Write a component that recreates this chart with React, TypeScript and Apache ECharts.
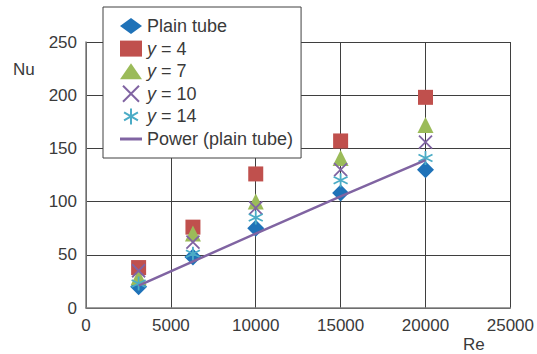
import React, { useEffect, useRef } from "react";
import * as echarts from "echarts";

const reValues = [3100, 6300, 10000, 15000, 20000];
const plainTube = [20, 48, 75, 108, 130];
const y4 = [38, 76, 126, 157, 198];
const y7 = [29, 70, 100, 141, 172];
const y10 = [35, 62, 94, 130, 156];
const y14 = [23, 51, 85, 120, 141];
const powerRe = [3100, 10000, 15000, 20000];
const powerNu = [21, 70, 105, 139];
const xTicks = [0, 5000, 10000, 15000, 20000, 25000];
const yTicks = [0, 50, 100, 150, 200, 250];

const FONT = "'Liberation Sans', Arial, sans-serif";
const TXT = "#3a3a3a";

const X_PATH = "path://M0,0L10,10M10,0L0,10";
const AST_PATH = "path://M5,0L5,10M0.67,2.5L9.33,7.5M0.67,7.5L9.33,2.5";
const LINE_ICON = "path://M0,0H22V3H0Z";

export default function App() {
  const ref = useRef<HTMLDivElement>(null);
  useEffect(() => {
    if (!ref.current) return;
    const chart = echarts.init(ref.current, null, { renderer: "svg" });
    const pts = (ys: number[]) => reValues.map((x, i) => [x, ys[i]]);
    const option: any = {
      animation: false,
      backgroundColor: "#ffffff",
      textStyle: { fontFamily: FONT },
      grid: { left: 86, right: 16, top: 42, bottom: 46, containLabel: false },
      xAxis: {
        type: "value",
        min: xTicks[0],
        max: xTicks[xTicks.length - 1],
        interval: 5000,
        axisLine: { show: true, onZero: false, lineStyle: { color: "#7f7f7f", width: 1.5 } },
        axisTick: { show: false },
        axisLabel: {
          color: TXT,
          fontSize: 17,
          fontFamily: FONT,
          margin: 9,
          formatter: (v: number) => String(v),
        },
        splitLine: { show: true, lineStyle: { color: "#3f3f3f", width: 1 } },
      },
      yAxis: {
        type: "value",
        min: yTicks[0],
        max: yTicks[yTicks.length - 1],
        interval: 50,
        axisLine: { show: true, onZero: false, lineStyle: { color: "#7f7f7f", width: 1.5 } },
        axisTick: { show: false },
        axisLabel: {
          color: TXT,
          fontSize: 17,
          fontFamily: FONT,
          margin: 9,
          formatter: (v: number) => String(v),
        },
        splitLine: { show: true, lineStyle: { color: "#3f3f3f", width: 1 } },
      },
      legend: {
        left: 103,
        top: 7,
        orient: "vertical",
        padding: [10, 8, 10, 17],
        itemWidth: 22,
        itemHeight: 16,
        itemGap: 4.6,
        backgroundColor: "#ffffff",
        borderColor: "#404040",
        borderWidth: 1,
        textStyle: {
          color: TXT,
          fontSize: 18,
          lineHeight: 18,
          fontFamily: FONT,
          rich: {
            i: { fontStyle: "italic", fontSize: 18, lineHeight: 18, fontFamily: FONT, color: TXT },
          },
        },
        formatter: (name: string) =>
          name.startsWith("y = ") ? "{i|y} = " + name.slice(4) : name,
        data: [
          { name: "Plain tube" },
          { name: "y = 4" },
          { name: "y = 7" },
          {
            name: "y = 10",
            itemStyle: { color: "transparent", borderColor: "#8064A2", borderWidth: 2 },
          },
          {
            name: "y = 14",
            itemStyle: { color: "transparent", borderColor: "#4BACC6", borderWidth: 2 },
          },
          {
            name: "Power (plain tube)",
            icon: LINE_ICON,
            itemStyle: { color: "#8064A2", borderWidth: 0 },
          },
        ],
      },
      series: [
        {
          name: "Plain tube",
          type: "scatter",
          symbol: "diamond",
          symbolSize: 17,
          itemStyle: { color: "#1F72B8", opacity: 1 },
          data: pts(plainTube),
        },
        {
          name: "y = 4",
          type: "scatter",
          symbol: "rect",
          symbolSize: 15,
          itemStyle: { color: "#C0504D", opacity: 1 },
          data: pts(y4),
        },
        {
          name: "y = 7",
          type: "scatter",
          symbol: "triangle",
          symbolSize: 16,
          itemStyle: { color: "#9BBB59", opacity: 1 },
          data: pts(y7),
        },
        {
          name: "y = 10",
          type: "scatter",
          symbol: X_PATH,
          symbolSize: 13,
          itemStyle: { color: "transparent", borderColor: "#8064A2", borderWidth: 1.8, opacity: 1 },
          data: pts(y10),
        },
        {
          name: "y = 14",
          type: "scatter",
          symbol: AST_PATH,
          symbolSize: 14,
          itemStyle: { color: "transparent", borderColor: "#4BACC6", borderWidth: 1.8, opacity: 1 },
          data: pts(y14),
        },
        {
          name: "Power (plain tube)",
          type: "line",
          showSymbol: false,
          symbol: "none",
          lineStyle: { color: "#8064A2", width: 2.5 },
          itemStyle: { color: "#8064A2" },
          data: powerRe.map((x, i) => [x, powerNu[i]]),
        },
      ],
      graphic: [
        {
          type: "text",
          left: 13,
          top: 61,
          style: { text: "Nu", font: `17px ${FONT}`, fill: TXT },
        },
        {
          type: "text",
          left: 463,
          top: 336,
          style: { text: "Re", font: `17px ${FONT}`, fill: TXT },
        },
      ],
    };
    chart.setOption(option);
    return () => chart.dispose();
  }, []);
  return (
    <div
      ref={ref}
      style={{ position: "absolute", left: 0, top: 0, width: 537, height: 354, background: "#fff" }}
    />
  );
}
